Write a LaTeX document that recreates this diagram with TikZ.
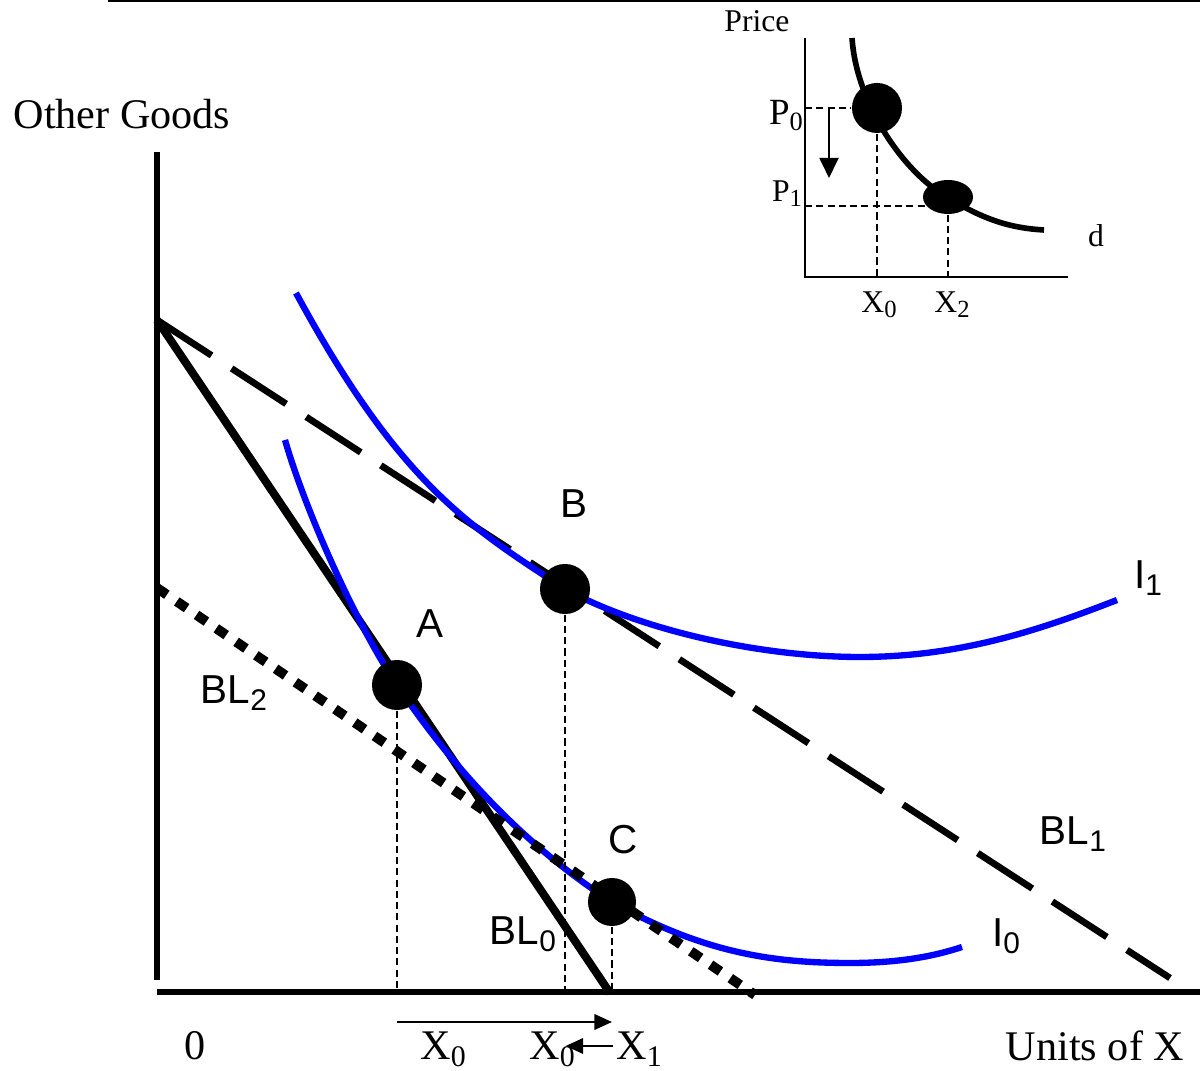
\documentclass[tikz,border=0pt]{standalone}
\usepackage{fontspec}
\setmainfont{Liberation Serif}
\newfontfamily\arialfont{Liberation Sans}
\usetikzlibrary{arrows.meta,shapes.geometric}
\newcommand{\lowsub}[2][8.5]{\raisebox{-0.35ex}{\fontsize{#1}{#1}\selectfont #2}}
\tikzset{
  >={Triangle[length=5pt,width=4.4pt]},
  % main graph
  axis/.style={line width=1.6pt},
  budget/.style={line width=2.3pt},
  budgetnew/.style={line width=1.9pt,dash pattern=on 18.5pt off 6.8pt},
  budgetcomp/.style={line width=2.8pt,dash pattern=on 3.4pt off 3.4pt},
  indiff/.style={draw=blue,line width=1.8pt},
  guide/.style={line width=0.4pt,dash pattern=on 2pt off 1.2pt},
  bundle/.style={circle,fill=black,inner sep=0pt,minimum size=5mm},
  serif/.style={font=\fontsize{12}{14}\selectfont,inner sep=0pt},
  sans/.style={font=\arialfont\fontsize{11.5}{13}\selectfont,inner sep=0pt},
  % demand inset
  small/.style={font=\fontsize{9}{10}\selectfont,inner sep=0pt},
  demand/.style={line width=1.6pt},
}
\begin{document}
\begin{tikzpicture}[x=0.01cm,y=-0.01cm]
\useasboundingbox (0,0) rectangle (1200,1071);
  \coordinate (rule0) at (108,1);
  \coordinate (rule1) at (1200,1);
  \draw[line width=0.6pt] (rule0) -- (rule1);
  % axes
  \coordinate (ytop) at (157,152);
  \coordinate (ybot) at (157,980);
  \coordinate (orig) at (157,992);
  \coordinate (xend) at (1200,992);
  \draw[axis] (ytop) -- (ybot);
  \draw[axis] (orig) -- (xend);
  \node[serif] (ylab) at (122,114) {Other Goods};
  \node[serif] (zero) at (195,1046) {0};
  \node[serif] (xlab) at (1095,1046) {Units of X};
  % budget lines
  \coordinate (bl0a) at (157,320);
  \coordinate (bl0b) at (610,993);
  \coordinate (bl1b) at (1170,978);
  \coordinate (bl2a) at (157,588);
  \coordinate (bl2b) at (755,995);
  \draw[budget] (bl0a) -- (bl0b);
  \draw[budgetnew] (bl0a) -- (bl1b);
  % bundles
  \coordinate (a) at (397,685);
  \coordinate (b) at (565,589);
  \coordinate (c) at (612,902);
  % indifference curves
  \draw[indiff] (285,440) .. controls (305,510) and (357,626) .. (a)
    .. controls (467,789) and (542,857) .. (c)
    .. controls (702,952) and (770,963) .. (850,963)
    .. controls (900,963) and (935,956) .. (962,947);
  \draw[indiff] (296,293) .. controls (400,485) and (470,527) .. (b)
    .. controls (640,630) and (760,657) .. (860,657)
    .. controls (960,657) and (1040,630) .. (1117,600);
  \draw[budgetcomp] (bl2a) -- (bl2b);
  \node[bundle] (A) at (a) {};
  \node[bundle] (B) at (b) {};
  \node[bundle,minimum size=4.8mm] (C) at (c) {};
  \draw[guide] (A) -- (A |- orig);
  \draw[guide] (B) -- (B |- orig);
  \draw[guide] (C) -- (C |- orig);
  \node[sans] (labA) at (430,624) {A};
  \node[sans] (labB) at (574,504) {B};
  \node[sans] (labC) at (623,840) {C};
  \node[sans] (labI1) at (1148,578) {I\lowsub{1}};
  \node[sans] (labI0) at (1006,936) {I\lowsub{0}};
  \node[sans] (labBL1) at (1073,834) {BL\lowsub{1}};
  \node[sans] (labBL2) at (234,693) {BL\lowsub{2}};
  \node[sans] (labBL0) at (523,934) {BL\lowsub{0}};
  % quantities on the x axis
  \node[serif] (qx0) at (443,1049) {X\lowsub{0}};
  \node[serif] (qx0b) at (552,1049) {X\lowsub{0}};
  \node[serif] (qx1) at (639,1049) {X\lowsub{1}};
  \coordinate (arr0) at (397,1022);
  \coordinate (arr1) at (612,1022);
  \draw[->,line width=0.6pt] (arr0) -- (arr1);
  \draw[->,line width=0.6pt] (qx1.west) ++(-3,-3) -- ++(-47,0);
  % demand inset
  \coordinate (dtop) at (805,38);
  \coordinate (dorig) at (805,277);
  \coordinate (dend) at (1068,277);
  \draw[line width=0.6pt] (dtop) -- (dorig) -- (dend);
  \draw[demand] (852,38) .. controls (856,100) and (900,170) .. (948,198)
    .. controls (985,220) and (1010,228) .. (1044,230);
  \node[bundle] (P0) at (877,108) {};
  \node[ellipse,fill=black,inner sep=0pt,minimum width=5mm,minimum height=3.4mm] (P1) at (948,197) {};
  \draw[guide] (P0.center -| dorig) -- (P0.west);
  \draw[guide] (805,206) -- (948,206);
  \draw[guide] (P0.south) -- (P0 |- dorig);
  \draw[guide] (P1.south) -- (P1 |- dorig);
  \coordinate (drop0) at (829,108);
  \coordinate (drop1) at (829,178);
  \draw[-{Triangle[length=5.7pt,width=5.4pt]},line width=0.6pt] (drop0) -- (drop1);
  \node[small] (plab) at (757,21) {Price};
  \node[small,font=\fontsize{10.5}{11}\selectfont] (p0lab) at (786,116) {P\lowsub[7.5]{0}};
  \node[small] (p1lab) at (787,194) {P\lowsub[7]{1}};
  \node[small] (dx0) at (879,305) {X\lowsub[7]{0}};
  \node[small] (dx2) at (952,305) {X\lowsub[7]{2}};
  \node[small] (dlab) at (1096,236) {d};
\end{tikzpicture}
\end{document}
